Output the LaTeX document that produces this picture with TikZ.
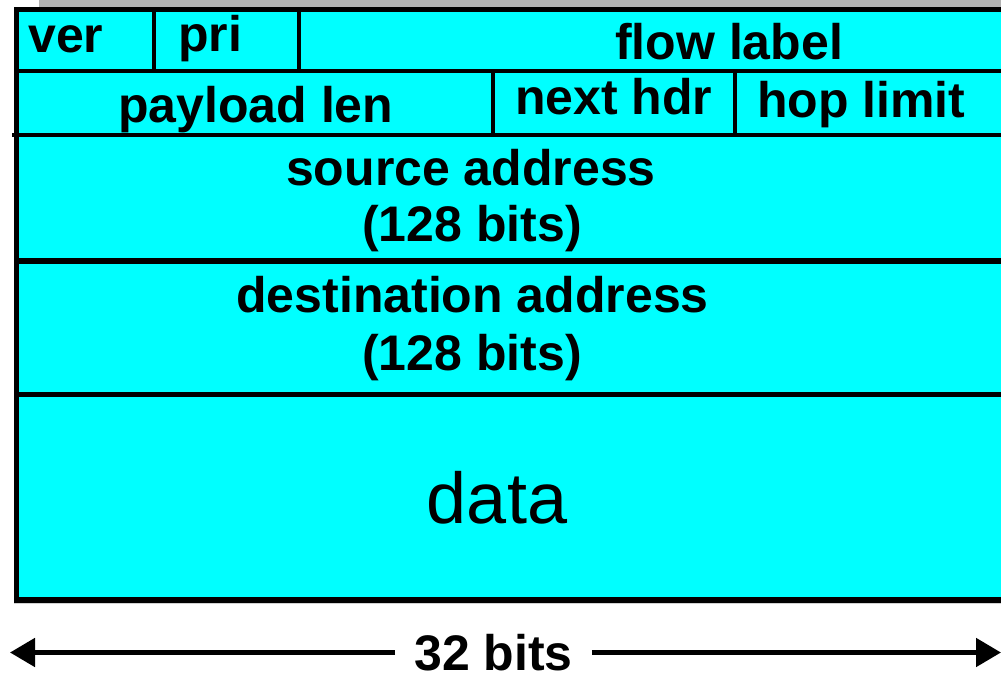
\documentclass[tikz,border=0pt]{standalone}
\usepackage{fontspec}
\setmainfont{Liberation Sans}
\usetikzlibrary{arrows.meta}
\definecolor{hdrcyan}{HTML}{00FFFF}
\definecolor{shadowgray}{HTML}{B2B2B2}
\tikzset{
  fieldtxt/.style={anchor=base west, inner sep=0pt, font=\bfseries\fontsize{50}{60}\selectfont},
  centertxt/.style={anchor=base, inner sep=0pt, font=\bfseries\fontsize{50}{60}\selectfont},
  datatxt/.style={anchor=base, inner sep=0pt, font=\fontsize{72}{86}\selectfont},
  rule/.style={line width=4pt},
  heavyrule/.style={line width=6pt},
  widtharrow/.style={line width=5pt, -{Triangle[length=25pt, width=28pt]}},
}
\begin{document}
\begin{tikzpicture}[x=1pt, y=-1pt]
  \useasboundingbox (0,0) rectangle (1001,674);
  \clip (0,0) rectangle (1001,674);
  % shadow
  \fill[shadowgray] (39,0) rectangle (1001,7.5);
  \draw[shadowgray!60, line width=1.2pt] (14,603.8) -- (1001,603.8);
  % header body
  \fill[hdrcyan] (16.5,10) rectangle (1010,600);
  % borders and row separators
  \draw[line width=5pt] (14,10) -- (1010,10);
  \draw[line width=5pt] (16.5,7.5) -- (16.5,603);
  \draw[rule] (14,71.5) -- (1010,71.5);
  \draw[rule] (12,135) -- (1010,135);
  \draw[heavyrule] (14,261) -- (1010,261);
  \draw[line width=5pt] (14,394.5) -- (1010,394.5);
  \draw[heavyrule] (14,600) -- (1010,600);
  % field dividers
  \draw[rule] (154,10) -- (154,71.5);
  \draw[rule] (299,10) -- (299,71.5);
  \draw[rule] (493,71.5) -- (493,135);
  \draw[rule] (735,71.5) -- (735,135);
  % labels
  \node[fieldtxt] (ver) at (28,53) {ver};
  \node[fieldtxt] (pri) at (178,52) {pri};
  \node[fieldtxt] (flow) at (615,60) {flow label};
  \node[fieldtxt] (plen) at (118,123) {payload len};
  \node[fieldtxt] (nhdr) at (515,115) {next hdr};
  \node[fieldtxt] (hop) at (757,118) {hop limit};
  \node[centertxt] (src) at (471,185) {source address};
  \node[centertxt] (srcbits) at (472,241) {(128 bits)};
  \node[centertxt] (dst) at (472.5,312) {destination address};
  \node[centertxt] (dstbits) at (472,370) {(128 bits)};
  \node[datatxt] (data) at (497,523) {data};
  % width indicator
  \node[anchor=base, inner xsep=19pt, inner ysep=0pt, font=\bfseries\fontsize{50}{60}\selectfont] (bits) at (493.5,670.5) {32 bits};
  \coordinate (ltip) at (10,652.5);
  \coordinate (rtip) at (1001,652.5);
  \draw[widtharrow] (bits.west |- ltip) -- (ltip);
  \draw[widtharrow] (bits.east |- rtip) -- (rtip);
\end{tikzpicture}
\end{document}
